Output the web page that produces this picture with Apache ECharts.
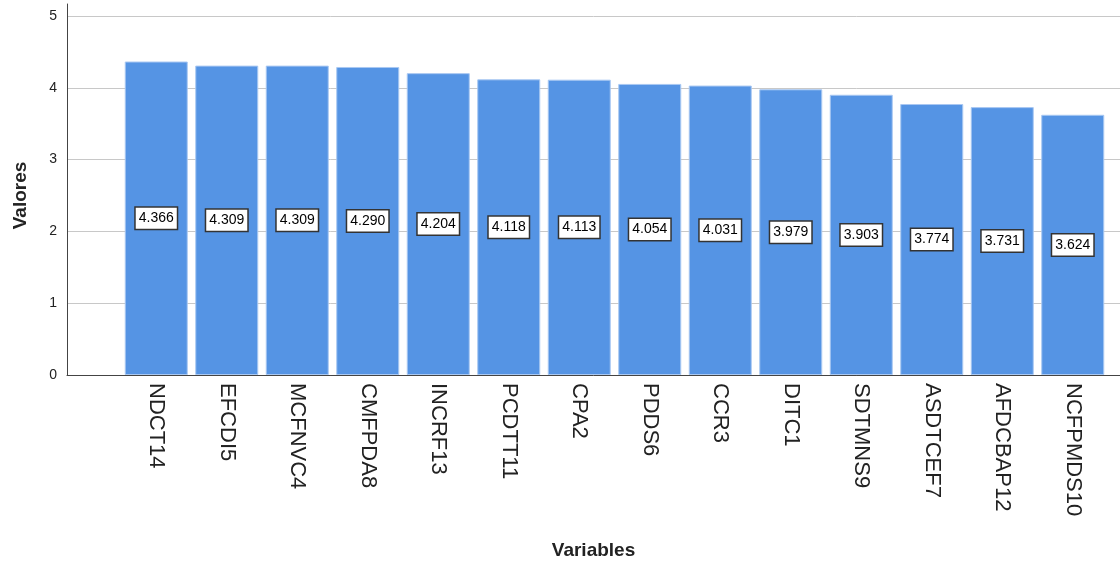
<!DOCTYPE html>
<html>
<head>
<meta charset="utf-8">
<script src="https://cdn.jsdelivr.net/npm/echarts@6/dist/echarts.min.js"></script>
<style>
  html, body { margin: 0; padding: 0; background: #fff; }
  #myChart { width: 1120px; height: 563px; }
</style>
</head>
<body>
<div id="myChart"></div>
<script>
// categories (x axis)
const variables = ['NDCT14', 'EFCDI5', 'MCFNVC4', 'CMFPDA8', 'INCRF13', 'PCDTT11', 'CPA2',
  'PDDS6', 'CCR3', 'DITC1', 'SDTMNS9', 'ASDTCEF7', 'AFDCBAP12', 'NCFPMDS10']
// mean values
const valores = [4.366, 4.309, 4.309, 4.290, 4.204, 4.118, 4.113, 4.054, 4.031, 3.979, 3.903, 3.774, 3.731, 3.624]
const yTicks = [0, 1, 2, 3, 4, 5]

const font = 'Liberation Sans, Arial, sans-serif'

let option = {
  backgroundColor: '#fff',
  animation: false,
  grid: [
    // axis frame (left line + baseline)
    { left: 67, right: 0, top: 4, bottom: 188, outerBoundsMode: 'none' },
    // tick labels + grid lines
    { left: 67, right: 0, top: 16, bottom: 188, outerBoundsMode: 'none' },
    // bars
    { left: 121, right: 12, top: 16, bottom: 188, outerBoundsMode: 'none' }
  ],
  xAxis: [
    {
      gridIndex: 0, type: 'value', min: 0, max: 1,
      axisLine: { show: true, onZero: false, lineStyle: { color: '#444', width: 1 } },
      axisTick: { show: false }, axisLabel: { show: false }, splitLine: { show: false },
      name: 'Variables', nameLocation: 'middle', nameGap: 166,
      nameTextStyle: { fontFamily: font, fontSize: 19, fontWeight: 'bold', color: '#222' }
    },
    {
      gridIndex: 1, type: 'value', min: 0, max: 1, show: false
    },
    {
      gridIndex: 2, type: 'category', data: variables,
      axisLine: { show: false }, axisTick: { show: false },
      axisLabel: {
        interval: 0, rotate: -90, margin: 8,
        fontFamily: font, fontSize: 22, color: '#222'
      }
    }
  ],
  yAxis: [
    {
      gridIndex: 0, type: 'value', min: 0, max: 5.17,
      axisLine: { show: true, onZero: false, lineStyle: { color: '#444', width: 1 } },
      axisTick: { show: false }, axisLabel: { show: false }, splitLine: { show: false }
    },
    {
      gridIndex: 1, type: 'value', min: yTicks[0], max: yTicks[yTicks.length - 1], interval: 1,
      axisLine: { show: false }, axisTick: { show: false },
      axisLabel: { fontFamily: font, fontSize: 14, color: '#222', margin: 10 },
      splitLine: { show: true, lineStyle: { color: '#c8c8c8', width: 1 } },
      name: 'Valores', nameLocation: 'middle', nameGap: 37,
      nameTextStyle: { fontFamily: font, fontSize: 19, fontWeight: 'bold', color: '#222' }
    },
    {
      gridIndex: 2, type: 'value', min: 0, max: 5, interval: 1, show: false
    }
  ],
  series: [
    {
      type: 'bar',
      xAxisIndex: 2,
      yAxisIndex: 2,
      data: valores,
      barWidth: 63,
      itemStyle: { color: '#5594e4', borderColor: '#a9c8f2', borderWidth: 1 },
      label: {
        show: true,
        position: 'inside',
        formatter: p => p.value.toFixed(3),
        fontFamily: font,
        fontSize: 14,
        color: '#000',
        backgroundColor: '#fff',
        borderColor: '#333',
        borderWidth: 1.5,
        padding: [4, 3, 3, 3]
      }
    }
  ]
}

const myChart = echarts.init(document.getElementById('myChart'))
myChart.setOption(option)
</script>
</body>
</html>
